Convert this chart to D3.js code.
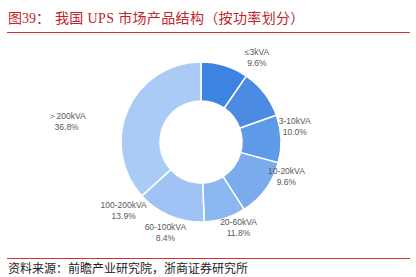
<!DOCTYPE html>
<html>
<head>
<meta charset="utf-8">
<script src="https://cdn.jsdelivr.net/npm/d3@7"></script>
<style>
  html, body { margin: 0; padding: 0; background: #fff; }
  svg { display: block; }
</style>
</head>
<body>
<svg id="chart" width="416" height="277"></svg>
<script>
// UPS market product mix by power rating (share, %)
const categories = ["≤3kVA", "3-10kVA", "10-20kVA", "20-60kVA", "60-100kVA", "100-200kVA", "＞200kVA"];
const shares = [9.6, 10.0, 9.6, 11.8, 8.4, 13.9, 36.8];
const shareLabels = ["9.6%", "10.0%", "9.6%", "11.8%", "8.4%", "13.9%", "36.8%"];

const sliceColors = ["#3d83e1", "#4b8be4", "#5f9ae8", "#79abed", "#8bb7f0", "#9fc3f4", "#a9cbf6"];
// label placement: rotation (deg) from slice mid-angle and distance from centre
const labelRotate = [16, 28, 24, 30, 39, 26, -15];
const labelRadius = [102, 95, 92, 93, 97, 103, 136];

const svg = d3.select("#chart");
const cx = 201, cy = 142, rOuter = 80, rInner = 41;

// title
const title = svg.append("text")
  .attr("x", 8).attr("y", 23)
  .attr("fill", "#c0232b")
  .style("font-size", "14px")
  .style("font-family", "'Liberation Serif', 'Noto Sans CJK SC'");
title.append("tspan").text("图39：");
title.append("tspan").attr("x", 55).style("letter-spacing", "0.35px")
  .text("我国 UPS 市场产品结构（按功率划分）");

svg.append("line").attr("x1", 7).attr("x2", 410).attr("y1", 32.5).attr("y2", 32.5)
  .attr("stroke", "#d9312f").attr("stroke-width", 1.2);
svg.append("line").attr("x1", 7).attr("x2", 410).attr("y1", 258.5).attr("y2", 258.5)
  .attr("stroke", "#d9312f").attr("stroke-width", 1.2);

svg.append("text").attr("x", 8).attr("y", 273)
  .attr("fill", "#222")
  .style("font-family", "'Noto Sans CJK SC'")
  .style("font-size", "12px")
  .text("资料来源：前瞻产业研究院，浙商证券研究所");

// donut
const pie = d3.pie().sort(null).value(d => d);
const arcs = pie(shares);
const arc = d3.arc().innerRadius(rInner).outerRadius(rOuter);
const color = d3.scaleOrdinal().domain(categories).range(sliceColors);

const g = svg.append("g").attr("transform", `translate(${cx},${cy})`);
g.selectAll("path.slice").data(arcs).enter().append("path")
  .attr("class", "slice")
  .attr("d", arc)
  .attr("fill", (d, i) => color(categories[i]))
  .attr("stroke", "#fff")
  .attr("stroke-width", 1.5);

// labels
const lab = g.selectAll("g.lab").data(arcs).enter().append("g")
  .attr("class", "lab")
  .attr("transform", (d, i) => {
    const a = (d.startAngle + d.endAngle) / 2 + labelRotate[i] * Math.PI / 180;
    const r = labelRadius[i];
    return `translate(${r * Math.sin(a)},${-r * Math.cos(a)})`;
  });
lab.append("text")
  .attr("text-anchor", "middle").attr("y", -2)
  .attr("fill", "#595959")
  .style("font-family", "'Liberation Sans', Arial, sans-serif")
  .style("font-size", "8.5px")
  .text((d, i) => categories[i]);
lab.append("text")
  .attr("text-anchor", "middle").attr("y", 9)
  .attr("fill", "#595959")
  .style("font-family", "'Liberation Sans', Arial, sans-serif")
  .style("font-size", "8.5px")
  .text((d, i) => shareLabels[i]);
</script>
</body>
</html>
